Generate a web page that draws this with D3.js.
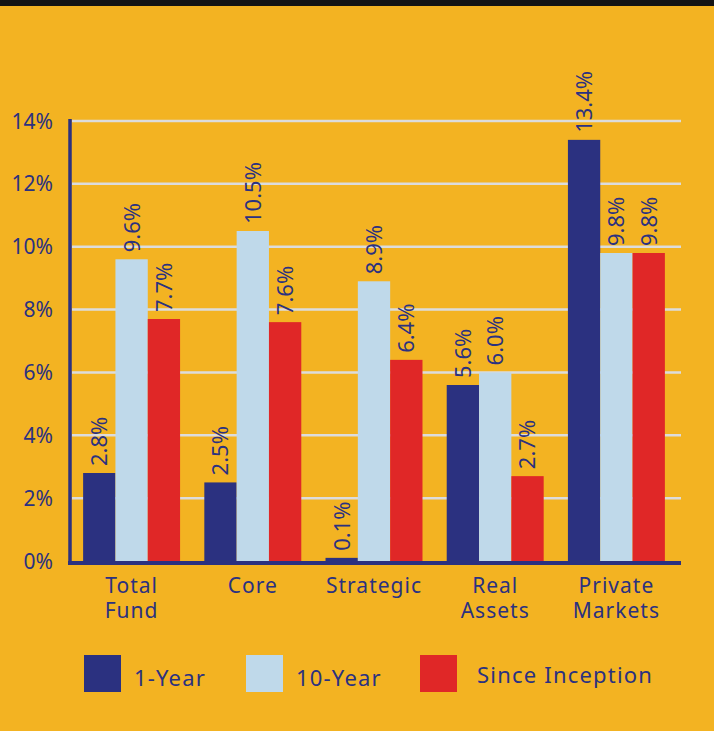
<!DOCTYPE html>
<html>
<head>
<meta charset="utf-8">
<script src="https://cdn.jsdelivr.net/npm/d3@7"></script>
<style>
  body { margin: 0; background: #f3b322; }
  text { font-family: "Noto Sans", Lato, sans-serif; fill: #2b3180; }
</style>
</head>
<body>
<div id="chart"></div>
<script>
// chart data
var categories = [["Total", "Fund"], ["Core"], ["Strategic"], ["Real", "Assets"], ["Private", "Markets"]];
var seriesNames = ["1-Year", "10-Year", "Since Inception"];
var oneYear = [2.8, 2.5, 0.1, 5.6, 13.4];
var tenYear = [9.6, 10.5, 8.9, 6.0, 9.8];
var sinceInception = [7.7, 7.6, 6.4, 2.7, 9.8];
var yTicks = [0, 2, 4, 6, 8, 10, 12, 14];

var colors = ["#2b3180", "#bfd9ea", "#e02727"];
var W = 714, H = 731;

var svg = d3.select("#chart").append("svg")
    .attr("width", W)
    .attr("height", H);

svg.append("rect").attr("width", W).attr("height", H).attr("fill", "#f3b322");
svg.append("rect").attr("width", W).attr("height", 6).attr("fill", "#141414");

// plot area
var plotL = 70, plotR = 681, plotT = 121, plotB = 561;

var x0 = d3.scaleBand().domain(d3.range(categories.length)).range([plotL + 1, plotR - 4])
    .paddingInner(0.2).paddingOuter(0.1);
var x1 = d3.scaleBand().domain(d3.range(seriesNames.length)).range([0, x0.bandwidth()]);
var y = d3.scaleLinear().domain([0, 14]).range([plotB, plotT]);

// gridlines
svg.append("g").selectAll("line")
    .data(yTicks.filter(function(d) { return d > 0; }))
    .enter().append("line")
    .attr("x1", plotL + 2).attr("x2", plotR)
    .attr("y1", function(d) { return y(d); })
    .attr("y2", function(d) { return y(d); })
    .attr("stroke", "#dcdcdc")
    .attr("stroke-width", 2.5);

// y tick labels
svg.append("g").selectAll("text")
    .data(yTicks)
    .enter().append("text")
    .attr("x", 53)
    .attr("y", function(d) { return y(d); })
    .attr("dy", "0.36em")
    .attr("text-anchor", "end")
    .style("font-size", "21px")
    .text(function(d) { return d + "%"; });

// bars
var rows = categories.map(function(c, i) {
    return [oneYear[i], tenYear[i], sinceInception[i]];
});

var groups = svg.append("g").selectAll("g")
    .data(rows)
    .enter().append("g")
    .attr("transform", function(d, i) { return "translate(" + x0(i) + ",0)"; });

groups.selectAll("rect")
    .data(function(d) { return d; })
    .enter().append("rect")
    .attr("x", function(d, j) { return x1(j); })
    .attr("width", x1.bandwidth())
    .attr("y", function(d) { return y(d); })
    .attr("height", function(d) { return plotB - y(d); })
    .attr("fill", function(d, j) { return colors[j]; });

// value labels, rotated
groups.selectAll("text")
    .data(function(d) { return d; })
    .enter().append("text")
    .attr("transform", function(d, j) {
        return "translate(" + (x1(j) + x1.bandwidth() / 2) + "," + (y(d) - 7) + ") rotate(-90)";
    })
    .attr("dy", "0.36em")
    .style("font-size", "22px")
    .text(function(d) { return d.toFixed(1) + "%"; });

// axes
svg.append("line")
    .attr("x1", plotL).attr("x2", plotL)
    .attr("y1", 119).attr("y2", plotB + 4)
    .attr("stroke", "#2b3180").attr("stroke-width", 3.5);
svg.append("line")
    .attr("x1", plotL - 2).attr("x2", plotR)
    .attr("y1", plotB + 2).attr("y2", plotB + 2)
    .attr("stroke", "#2b3180").attr("stroke-width", 4);

// category labels, one text per line
categories.forEach(function(lines, i) {
    svg.append("g").selectAll("text")
        .data(lines)
        .enter().append("text")
        .attr("x", x0(i) + x0.bandwidth() / 2)
        .attr("y", function(d, k) { return 593 + k * 25; })
        .attr("text-anchor", "middle")
        .style("font-size", "21px")
        .style("letter-spacing", "1px")
        .text(function(d) { return d; });
});

// legend
var legendX = [84, 246, 420];
var legend = svg.append("g").selectAll("g")
    .data(seriesNames)
    .enter().append("g")
    .attr("transform", function(d, i) { return "translate(" + legendX[i] + ",655)"; });
legend.append("rect")
    .attr("width", 37).attr("height", 37)
    .attr("fill", function(d, i) { return colors[i]; });
legend.append("text")
    .attr("x", function(d, i) { return i === 2 ? 57 : 50; })
    .attr("y", function(d, i) { return i === 2 ? 28 : 31; })
    .style("font-size", "22px")
    .style("letter-spacing", "1.2px")
    .text(function(d) { return d; });
</script>
</body>
</html>
